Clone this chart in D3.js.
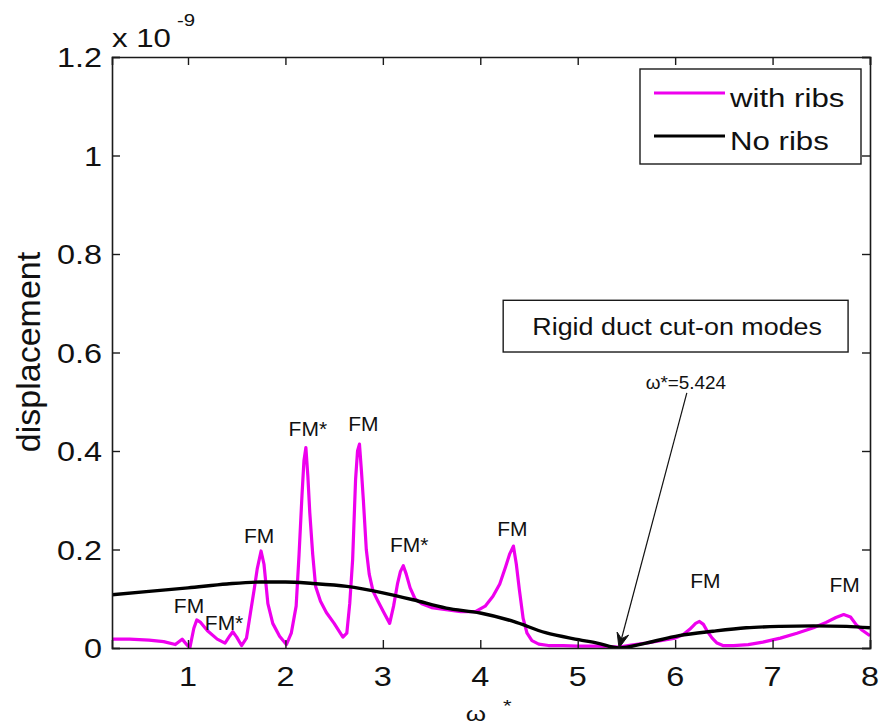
<!DOCTYPE html>
<html>
<head>
<meta charset="utf-8">
<script src="https://cdn.jsdelivr.net/npm/d3@7"></script>
<style>
  html, body { margin: 0; padding: 0; background: #fff; }
  svg { display: block; }
  text { font-family: "Liberation Sans", Arial, Helvetica, sans-serif; fill: #111; }
</style>
</head>
<body>
<svg id="chart" width="887" height="725"></svg>
<script>
// Non-dimensional frequency ω* and displacement amplitude (×1e-9)
const withRibsW = [0.22, 0.40, 0.60, 0.75, 0.87, 0.94, 0.99, 1.02, 1.06, 1.09, 1.13, 1.20, 1.30, 1.38, 1.43, 1.46, 1.50, 1.55, 1.60, 1.64, 1.68, 1.71, 1.75, 1.78, 1.82, 1.87, 1.94, 2.01, 2.06, 2.11, 2.14, 2.17, 2.19, 2.21, 2.23, 2.25, 2.28, 2.31, 2.36, 2.42, 2.50, 2.59, 2.63, 2.66, 2.69, 2.72, 2.74, 2.76, 2.78, 2.80, 2.83, 2.86, 2.90, 2.95, 3.01, 3.07, 3.11, 3.15, 3.18, 3.21, 3.24, 3.28, 3.33, 3.40, 3.50, 3.65, 3.80, 3.95, 4.05, 4.13, 4.20, 4.26, 4.30, 4.34, 4.37, 4.40, 4.44, 4.48, 4.53, 4.60, 4.70, 4.85, 5.00, 5.20, 5.424, 5.55, 5.70, 5.85, 6.00, 6.08, 6.15, 6.21, 6.25, 6.29, 6.33, 6.38, 6.43, 6.49, 6.60, 6.75, 6.90, 7.08, 7.25, 7.42, 7.55, 7.65, 7.73, 7.80, 7.86, 7.92, 8.00];
const withRibsD = [0.018, 0.018, 0.016, 0.013, 0.007, 0.018, 0.006, 0.001, 0.040, 0.057, 0.052, 0.035, 0.018, 0.010, 0.025, 0.033, 0.022, 0.005, 0.020, 0.070, 0.120, 0.160, 0.197, 0.170, 0.090, 0.050, 0.024, 0.007, 0.030, 0.085, 0.190, 0.310, 0.380, 0.407, 0.350, 0.275, 0.190, 0.125, 0.095, 0.072, 0.050, 0.022, 0.030, 0.090, 0.180, 0.342, 0.400, 0.414, 0.360, 0.300, 0.200, 0.150, 0.115, 0.095, 0.072, 0.050, 0.085, 0.130, 0.155, 0.167, 0.150, 0.122, 0.100, 0.090, 0.082, 0.078, 0.074, 0.074, 0.085, 0.105, 0.130, 0.165, 0.190, 0.207, 0.170, 0.120, 0.060, 0.030, 0.015, 0.008, 0.005, 0.005, 0.004, 0.004, 0.002, 0.006, 0.010, 0.015, 0.020, 0.027, 0.038, 0.050, 0.054, 0.048, 0.034, 0.020, 0.010, 0.005, 0.005, 0.007, 0.012, 0.020, 0.030, 0.041, 0.052, 0.062, 0.068, 0.063, 0.047, 0.036, 0.025];

const noRibsW = [0.22, 0.60, 1.00, 1.40, 1.75, 2.00, 2.28, 2.63, 3.00, 3.31, 3.65, 4.00, 4.34, 4.67, 5.01, 5.20, 5.424, 5.70, 6.04, 6.39, 6.73, 7.08, 7.42, 7.76, 8.00];
const noRibsD = [0.108, 0.115, 0.122, 0.130, 0.134, 0.134, 0.131, 0.125, 0.112, 0.098, 0.081, 0.071, 0.054, 0.031, 0.017, 0.010, 0.000, 0.010, 0.025, 0.034, 0.041, 0.044, 0.045, 0.044, 0.041];

// Mode labels along the ribbed response
const modeLabels = ["FM", "FM*", "FM", "FM*", "FM", "FM*", "FM", "FM", "FM"];
const modeW      = [1.01, 1.37, 1.73, 2.23, 2.80, 3.27, 4.33, 6.31, 7.74];
const modeD      = [0.071, 0.037, 0.214, 0.430, 0.440, 0.195, 0.227, 0.121, 0.113];

const xTicks = [1, 2, 3, 4, 5, 6, 7, 8];
const yTicks = [0, 0.2, 0.4, 0.6, 0.8, 1, 1.2];
const seriesNames = ["with ribs", "No ribs"];
const seriesColors = ["#ee00ee", "#000000"];

const cutOnW = 5.424;

const svg = d3.select("#chart");
const mLeft = 112, mRight = 870, mTop = 57, mBottom = 648;

const x = d3.scaleLinear().domain([0.22, 8]).range([mLeft, mRight]);
const y = d3.scaleLinear().domain([0, 1.2]).range([mBottom, mTop]);

// Text drawn with a slightly wider set, as in the exported figure
function wideText(g, px, py, str, size, anchor, sx) {
  return g.append("text")
    .attr("transform", `translate(${px},${py}) scale(${sx},1)`)
    .attr("font-size", size)
    .attr("text-anchor", anchor)
    .text(str);
}

// Curves
const line = d3.line().x(d => x(d[0])).y(d => y(d[1]));
svg.append("clipPath").attr("id", "plotclip")
  .append("rect").attr("x", mLeft).attr("y", mTop).attr("width", mRight - mLeft).attr("height", mBottom - mTop);

const plot = svg.append("g").attr("clip-path", "url(#plotclip)");
plot.append("path")
  .datum(d3.zip(withRibsW, withRibsD))
  .attr("fill", "none").attr("stroke", seriesColors[0]).attr("stroke-width", 3.2)
  .attr("stroke-linejoin", "round")
  .attr("d", line);
plot.append("path")
  .datum(d3.zip(noRibsW, noRibsD))
  .attr("fill", "none").attr("stroke", seriesColors[1]).attr("stroke-width", 3.4)
  .attr("stroke-linejoin", "round")
  .attr("d", line.curve(d3.curveMonotoneX));

// Axes (inward ticks, box all around)
const axisColor = "#1a1a1a";
const gx = svg.append("g").attr("transform", `translate(0,${mBottom})`)
  .call(d3.axisBottom(x).tickValues(xTicks).tickSize(-8).tickFormat(""));
const gxt = svg.append("g").attr("transform", `translate(0,${mTop})`)
  .call(d3.axisTop(x).tickValues(xTicks).tickSize(-8).tickFormat(""));
const gy = svg.append("g").attr("transform", `translate(${mLeft},0)`)
  .call(d3.axisLeft(y).tickValues(yTicks).tickSize(-8).tickFormat(""));
const gyr = svg.append("g").attr("transform", `translate(${mRight},0)`)
  .call(d3.axisRight(y).tickValues(yTicks).tickSize(-8).tickFormat(""));
[gx, gxt, gy, gyr].forEach(g => {
  g.selectAll("path.domain").attr("stroke", axisColor).attr("stroke-width", 1.6);
  g.selectAll(".tick line").attr("stroke", axisColor).attr("stroke-width", 1.4);
});

// Tick labels
const fmt = d3.format("~g");
xTicks.forEach(v => wideText(svg, x(v), 686, fmt(v), 27, "middle", 1.2));
yTicks.forEach(v => wideText(svg, 102, y(v) + 10, fmt(v), 27, "end", 1.2));

// Exponent
wideText(svg, 112, 47, "x 10", 26, "start", 1.2);
wideText(svg, 177, 26, "-9", 17, "start", 1.2);

// Axis titles
svg.append("text")
  .attr("transform", `translate(40,352) rotate(-90)`)
  .attr("font-size", 34).attr("text-anchor", "middle")
  .text("displacement");
const xl = svg.append("g").attr("transform", "translate(476,721) scale(1.3,1)");
xl.append("text").attr("font-family", "DejaVu Serif").attr("font-size", 20).attr("text-anchor", "middle").text("ω");
xl.append("text").attr("x", 24).attr("y", -9).attr("font-size", 17).attr("text-anchor", "middle").text("*");

// Mode labels
modeLabels.forEach((s, i) => {
  wideText(svg, x(modeW[i]), y(modeD[i]), s, 20, "middle", 1.05);
});

// Legend
const lg = svg.append("g");
lg.append("rect").attr("x", 640).attr("y", 69).attr("width", 221).attr("height", 95)
  .attr("fill", "#fff").attr("stroke", axisColor).attr("stroke-width", 1.4);
seriesNames.forEach((s, i) => {
  const yy = 93 + i * 43;
  lg.append("line").attr("x1", 654).attr("x2", 725).attr("y1", yy).attr("y2", yy)
    .attr("stroke", seriesColors[i]).attr("stroke-width", 3);
  wideText(lg, 730, yy + 14, s, 26, "start", 1.2);
});

// Annotation box
const bx0 = x(4.235), bx1 = x(7.775), by0 = y(0.706), by1 = y(0.601);
svg.append("rect").attr("x", bx0).attr("y", by0).attr("width", bx1 - bx0).attr("height", by1 - by0)
  .attr("fill", "#fff").attr("stroke", axisColor).attr("stroke-width", 1.4);
wideText(svg, (bx0 + bx1) / 2 + 1.5, by0 + 35, "Rigid duct cut-on modes", 24, "middle", 1.12);

// Cut-on arrow
const ax0 = x(6.12), ay0 = y(0.518), ax1 = x(cutOnW), ay1 = y(0);
svg.append("line").attr("x1", ax0).attr("y1", ay0).attr("x2", ax1).attr("y2", ay1)
  .attr("stroke", "#111").attr("stroke-width", 1.2);
const ang = Math.atan2(ay1 - ay0, ax1 - ax0);
const hl = 16, hw = 0.38;
const p1 = [ax1 - hl * Math.cos(ang - hw), ay1 - hl * Math.sin(ang - hw)];
const p2 = [ax1 - hl * Math.cos(ang + hw), ay1 - hl * Math.sin(ang + hw)];
const pm = [ax1 - hl * 0.6 * Math.cos(ang), ay1 - hl * 0.6 * Math.sin(ang)];
svg.append("path")
  .attr("d", `M${p1[0]},${p1[1]} L${ax1},${ay1} L${p2[0]},${p2[1]} L${pm[0]},${pm[1]} Z`)
  .attr("fill", "#111").attr("stroke", "#111").attr("stroke-width", 1);
wideText(svg, ax0 - 1, ay0 - 4, "ω*=" + cutOnW, 18, "middle", 1.05);
</script>
</body>
</html>
